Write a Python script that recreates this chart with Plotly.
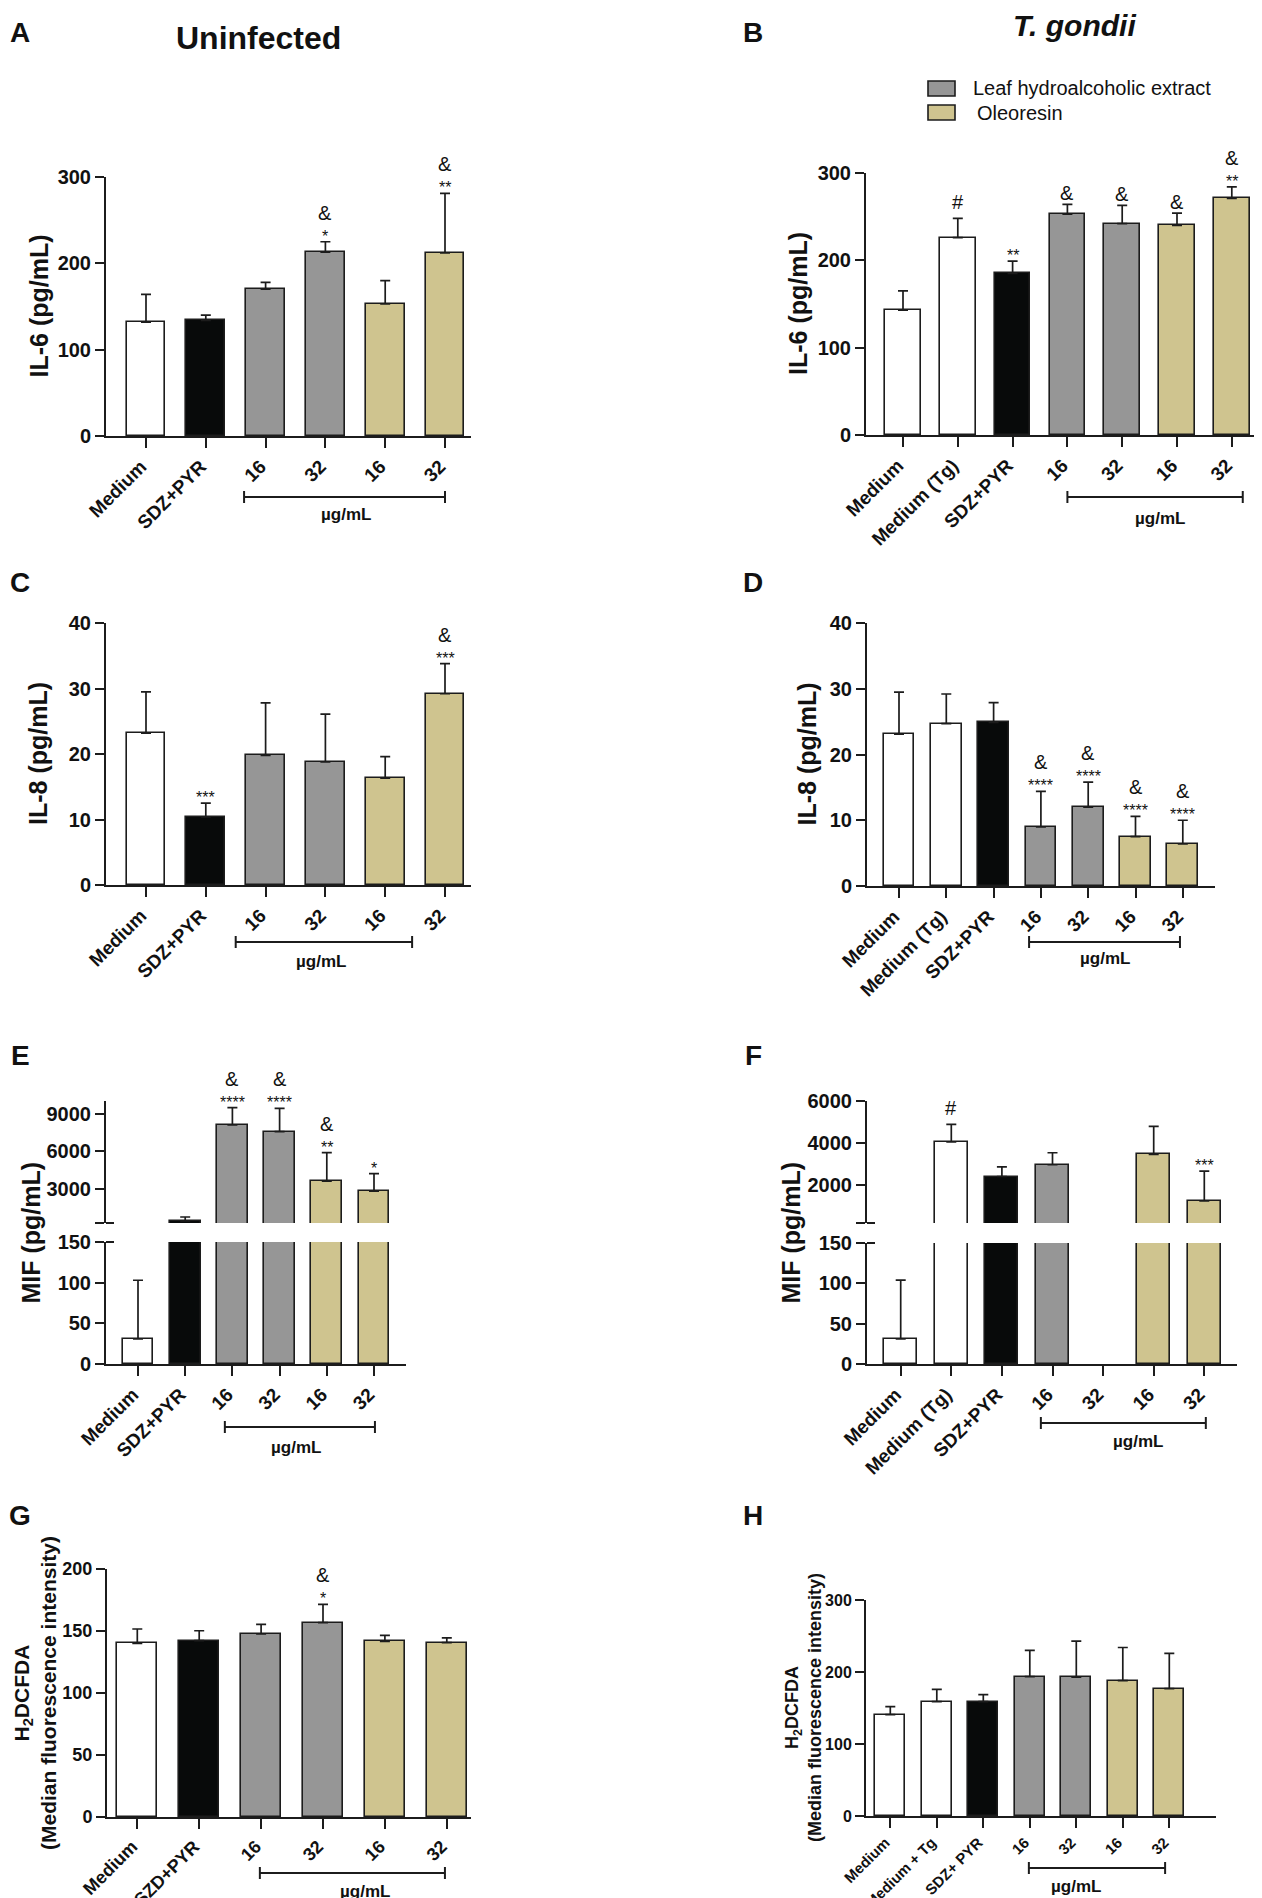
import plotly.graph_objs as go

W, H = 1262, 1898
FONT = "Liberation Sans, Arial, sans-serif"
INK = "#1c1c1c"
FILL = {"medium": "#ffffff", "sdz": "#080a0a", "leaf": "#969696", "oleo": "#cfc48f"}
BAR_W = 0.65

# ---- categories ----
labels_uninf = ["Medium", "SDZ+PYR", "16", "32", "16", "32"]
labels_tg = ["Medium", "Medium (Tg)", "SDZ+PYR", "16", "32", "16", "32"]
labels_ros_uninf = ["Medium", "SZD+PYR", "16", "32", "16", "32"]
labels_ros_tg = ["Medium", "Medium + Tg", "SDZ+ PYR", "16", "32", "16", "32"]
groups_uninf = ["medium", "sdz", "leaf", "leaf", "oleo", "oleo"]
groups_tg = ["medium", "medium", "sdz", "leaf", "leaf", "oleo", "oleo"]

# ---- values (mean, sd) ----
il6_uninf = [132, 134, 170, 213, 153, 212]
il6_uninf_sd = [32, 6, 8, 12, 27, 69]
il6_uninf_stars = ["", "", "", "*", "", "**"]
il6_uninf_marks = ["", "", "", "&", "", "&"]

il6_tg = [143, 226, 185, 253, 242, 240, 271]
il6_tg_sd = [22, 22, 14, 11, 21, 14, 13]
il6_tg_stars = ["", "", "**", "", "", "", "**"]
il6_tg_marks = ["", "#", "", "&", "&", "&", "&"]

il8_uninf = [23.2, 10.4, 19.8, 18.8, 16.3, 29.2]
il8_uninf_sd = [6.3, 2.1, 8.0, 7.3, 3.3, 4.6]
il8_uninf_stars = ["", "***", "", "", "", "***"]
il8_uninf_marks = ["", "", "", "", "", "&"]

il8_tg = [23.1, 24.7, 24.9, 9.0, 12.0, 7.5, 6.4]
il8_tg_sd = [6.4, 4.5, 3.0, 5.4, 3.8, 3.1, 3.6]
il8_tg_stars = ["", "", "", "****", "****", "****", "****"]
il8_tg_marks = ["", "", "", "&", "&", "&", "&"]

mif_uninf = [31, 440, 8100, 7560, 3620, 2820]
mif_uninf_sd = [72, 320, 1380, 1860, 2260, 1400]
mif_uninf_stars = ["", "", "****", "****", "**", "*"]
mif_uninf_marks = ["", "", "&", "&", "&", ""]

mif_tg = [31, 4050, 2410, 2970, None, 3460, 1250]
mif_tg_sd = [73, 840, 460, 570, None, 1330, 1420]
mif_tg_stars = ["", "", "", "", "", "", "***"]
mif_tg_marks = ["", "#", "", "", "", "", ""]

ros_uninf = [140, 142.2, 147.6, 156.8, 141.6, 140.7]
ros_uninf_sd = [11.6, 8.0, 7.8, 14.6, 4.9, 3.8]
ros_uninf_stars = ["", "", "", "*", "", ""]
ros_uninf_marks = ["", "", "", "&", "", ""]

ros_tg = [140.7, 158.8, 158.8, 193.5, 193, 188, 177]
ros_tg_sd = [11.3, 17.2, 9.7, 36.5, 50, 46, 49]
ros_tg_stars = ["", "", "", "", "", "", ""]
ros_tg_marks = ["", "", "", "", "", "", ""]

# ---- axis ticks ----
ticks_il6 = [0, 100, 200, 300]
ticks_il8 = [0, 10, 20, 30, 40]
ticks_mif_low = [0, 50, 100, 150]
ticks_mif_uninf_high = [280, 3000, 6000, 9000]
ticks_mif_tg_high = [200, 2000, 4000, 6000]
ticks_ros_uninf = [0, 50, 100, 150, 200]
ticks_ros_tg = [0, 100, 200, 300]


def fx(p):
    return p / W


def fy(p):
    return 1 - p / H


def seg(top, bot, rng, ticks, blank_first=False):
    text = [str(v) for v in ticks]
    if blank_first:
        text[0] = ""
    return dict(top=top, bot=bot, range=rng, ticks=ticks, text=text)


panels = [
    dict(letter="A", labels=labels_uninf, groups=groups_uninf, mean=il6_uninf, sd=il6_uninf_sd,
         stars=il6_uninf_stars, marks=il6_uninf_marks, ytitle="IL-6 (pg/mL)",
         x0=98, x1=463, c0=138, step=59.8,
         segs=[seg(169, 428, [0, 300], ticks_il6)],
         yfs=20, xfs=19, tx=30, tfs=25, lxy=(12, 25), br=(1.64, 5.0), drop=61, ux=3.34, uoff=18),
    dict(letter="B", labels=labels_tg, groups=groups_tg, mean=il6_tg, sd=il6_tg_sd,
         stars=il6_tg_stars, marks=il6_tg_marks, ytitle="IL-6 (pg/mL)",
         x0=858, x1=1262, c0=895, step=54.8,
         segs=[seg(165, 427, [0, 300], ticks_il6)],
         yfs=20, xfs=19, tx=790, tfs=25, lxy=(745, 25), br=(3.0, 6.2), drop=62, ux=4.69, uoff=22),
    dict(letter="C", labels=labels_uninf, groups=groups_uninf, mean=il8_uninf, sd=il8_uninf_sd,
         stars=il8_uninf_stars, marks=il8_uninf_marks, ytitle="IL-8 (pg/mL)",
         x0=98, x1=463, c0=138, step=59.8,
         segs=[seg(615, 877, [0, 40], ticks_il8)],
         yfs=20, xfs=19, tx=30, tfs=25, lxy=(12, 574), br=(1.5, 4.45), drop=57, ux=2.93, uoff=20),
    dict(letter="D", labels=labels_tg, groups=groups_tg, mean=il8_tg, sd=il8_tg_sd,
         stars=il8_tg_stars, marks=il8_tg_marks, ytitle="IL-8 (pg/mL)",
         x0=859, x1=1207, c0=891, step=47.3,
         segs=[seg(615, 878, [0, 40], ticks_il8)],
         yfs=20, xfs=19, tx=798, tfs=25, lxy=(745, 574), br=(2.75, 5.94), drop=56, ux=4.36, uoff=16),
    dict(letter="E", labels=labels_uninf, groups=groups_uninf, mean=mif_uninf, sd=mif_uninf_sd,
         stars=mif_uninf_stars, marks=mif_uninf_marks, ytitle="MIF (pg/mL)",
         x0=98, x1=398, c0=130, step=47.2,
         segs=[seg(1234, 1356, [0, 150], ticks_mif_low),
               seg(1093, 1215, [280, 10000], ticks_mif_uninf_high, True)],
         yfs=20, xfs=19, tx=22, tfs=25, lxy=(12, 1047), br=(1.84, 5.02), drop=63, ux=3.35, uoff=20),
    dict(letter="F", labels=labels_tg, groups=groups_tg, mean=mif_tg, sd=mif_tg_sd,
         stars=mif_tg_stars, marks=mif_tg_marks, ytitle="MIF (pg/mL)",
         x0=859, x1=1229, c0=892.7, step=50.6,
         segs=[seg(1235, 1356, [0, 150], ticks_mif_low),
               seg(1093, 1215, [200, 6000], ticks_mif_tg_high, True)],
         yfs=20, xfs=19, tx=782, tfs=25, lxy=(745, 1047), br=(2.77, 6.03), drop=59, ux=4.69, uoff=18),
    dict(letter="G", labels=labels_ros_uninf, groups=groups_uninf, mean=ros_uninf, sd=ros_uninf_sd,
         stars=ros_uninf_stars, marks=ros_uninf_marks,
         ytitle="H<sub>2</sub>DCFDA<br>(Median fluorescence intensity)",
         x0=99, x1=463, c0=129.3, step=61.9,
         segs=[seg(1561, 1809, [0, 200], ticks_ros_uninf)],
         yfs=18, xfs=18, tx=27, tfs=21, lxy=(12, 1507), br=(1.98, 4.97), drop=56, ux=3.68, uoff=18),
    dict(letter="H", labels=labels_ros_tg, groups=groups_tg, mean=ros_tg, sd=ros_tg_sd,
         stars=ros_tg_stars, marks=ros_tg_marks,
         ytitle="H<sub>2</sub>DCFDA<br>(Median fluorescence intensity)",
         x0=858, x1=1208, c0=882.3, step=46.5,
         segs=[seg(1592, 1808, [0, 300], ticks_ros_tg)],
         yfs=16, xfs=15, tx=795, tfs=18, lxy=(745, 1507), br=(2.98, 5.91), drop=52, ux=4.0, uoff=18),
]

fig = go.Figure()
layout = dict(
    width=W, height=H, margin=dict(l=0, r=0, t=0, b=0),
    paper_bgcolor="white", plot_bgcolor="rgba(0,0,0,0)",
    template="none", showlegend=False, bargap=0,
)
shapes = []
annos = []


def txt(x, y, text, size, bold=False, **kw):
    a = dict(x=x, y=y, text=text, showarrow=False, xanchor="center", yanchor="middle",
             font=dict(family=FONT, size=size, color="#111", weight="bold" if bold else "normal"))
    a.update(kw)
    annos.append(a)


xi = 0
yi = 0
for p in panels:
    n = len(p["labels"])
    xi += 1
    xname = "x" if xi == 1 else f"x{xi}"
    colors = [FILL[g] for g in p["groups"]]
    ynames = []
    for s in p["segs"]:
        yi += 1
        yname = "y" if yi == 1 else f"y{yi}"
        ynames.append(yname)
        fig.add_trace(go.Bar(
            x=list(range(n)), y=p["mean"], width=BAR_W,
            marker=dict(color=colors, line=dict(color=INK, width=1.6)),
            error_y=dict(type="data", symmetric=False, array=p["sd"], arrayminus=[0] * n,
                         color=INK, thickness=1.7, width=5),
            xaxis=xname, yaxis=yname, hoverinfo="skip",
        ))
        layout["yaxis" if yi == 1 else f"yaxis{yi}"] = dict(
            domain=[fy(s["bot"]), fy(s["top"])], range=s["range"], anchor=xname,
            tickmode="array", tickvals=s["ticks"], ticktext=s["text"],
            showline=True, linecolor=INK, linewidth=2, ticks="outside", ticklen=9,
            tickwidth=2, tickcolor=INK, showgrid=False, zeroline=False, automargin=False,
            tickfont=dict(family=FONT, size=p["yfs"], color="#111", weight="bold"),
        )
    lo = (p["x0"] - p["c0"]) / p["step"]
    hi = (p["x1"] - p["c0"]) / p["step"]
    layout["xaxis" if xi == 1 else f"xaxis{xi}"] = dict(
        domain=[fx(p["x0"]), fx(p["x1"])], range=[lo, hi], anchor=ynames[0],
        tickmode="array", tickvals=list(range(n)), ticktext=p["labels"], tickangle=-45,
        ticklabelshift=-5,
        showline=True, linecolor=INK, linewidth=2, ticks="outside", ticklen=10,
        tickwidth=2, tickcolor=INK, showgrid=False, zeroline=False, automargin=False,
        tickfont=dict(family=FONT, size=p["xfs"], color="#111", weight="bold"),
    )

    # break marks on the split axes
    if len(p["segs"]) > 1:
        for yy in (p["segs"][0]["top"], p["segs"][1]["bot"]):
            shapes.append(dict(type="line", xref="paper", yref="paper",
                               x0=fx(p["x0"]), x1=fx(p["x0"] + 8), y0=fy(yy), y1=fy(yy),
                               line=dict(color=INK, width=2)))

    # significance marks
    top_ref = ynames[-1]
    for i in range(n):
        if p["mean"][i] is None:
            continue
        top = p["mean"][i] + p["sd"][i]
        st, mk = p["stars"][i], p["marks"][i]
        if st:
            txt(i, top, st, 16, xref=xname, yref=top_ref, yanchor="bottom", yshift=-5)
        if mk:
            if st:
                shift = 16
            elif mk == "#":
                shift = 3
            else:
                shift = -2
            txt(i, top, mk, 20, xref=xname, yref=top_ref, yanchor="bottom", yshift=shift)

    # concentration bracket
    yb = p["segs"][0]["bot"] + p["drop"]
    x_l, x_r = p["br"]
    shapes.append(dict(type="line", xref=xname, yref="paper", x0=x_l, x1=x_r,
                       y0=fy(yb), y1=fy(yb), line=dict(color=INK, width=2)))
    for xe in (x_l, x_r):
        shapes.append(dict(type="line", xref=xname, yref="paper", x0=xe, x1=xe,
                           y0=fy(yb - 6), y1=fy(yb + 6), line=dict(color=INK, width=2)))
    txt(p["ux"], fy(yb + p["uoff"]), "µg/mL", 17, True, xref=xname, yref="paper")

    # axis title and panel letter
    ymid = (p["segs"][-1]["top"] + p["segs"][0]["bot"]) / 2
    txt(fx(p["tx"]), fy(ymid), p["ytitle"], p["tfs"], True, xref="paper", yref="paper",
        textangle=-90)
    txt(fx(p["lxy"][0]), fy(p["lxy"][1]), p["letter"], 28, True, xref="paper", yref="paper")

# column titles
txt(fx(250), fy(30), "Uninfected", 32, True, xref="paper", yref="paper")
txt(fx(1066), fy(17), "<i>T. gondii</i>", 30, True, xref="paper", yref="paper")

# legend
legend_items = [("Leaf hydroalcoholic extract", "leaf", 73, 88, 963),
                ("Oleoresin", "oleo", 97, 112, 967)]
for name, grp, t, b, tx in legend_items:
    shapes.append(dict(type="rect", xref="paper", yref="paper",
                       x0=fx(920), x1=fx(947), y0=fy(b), y1=fy(t),
                       fillcolor=FILL[grp], line=dict(color=INK, width=1.6)))
    txt(fx(tx), fy((t + b) / 2), name, 20, xref="paper", yref="paper", xanchor="left")

layout["shapes"] = shapes
layout["annotations"] = annos
fig.update_layout(**layout)
fig.write_html("out.html")
